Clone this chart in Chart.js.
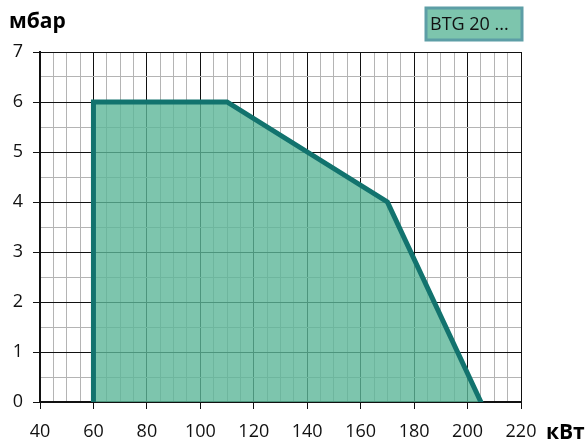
<!DOCTYPE html>
<html>
<head>
<meta charset="utf-8">
<script src="https://cdn.jsdelivr.net/npm/chart.js@4/dist/chart.umd.min.js"></script>
<style>
  html, body { margin: 0; padding: 0; background: #fff; }
</style>
</head>
<body>
<canvas id="chart" width="587" height="441"></canvas>
<script>
// working field of the burner: output (kW) vs. pressure (mbar)
const powerKw = [60, 60, 110, 170, 205];
const pressureMbar = [0, 6, 6, 4, 0];
const seriesName = 'BTG 20 ...';
const yTitle = 'мбар';
const xTitle = 'кВт';

const FONT = '"Open Sans", "Noto Sans", sans-serif';
const LINE = '#12736e';
const MAJOR = '#111';
const MINOR = '#b4b4b4';

// grid colour: black every 20 kW / 1 mbar, grey in between
function isMajor(ctx, step) {
  const v = ctx.tick ? ctx.tick.value : 0;
  return Math.abs(v / step - Math.round(v / step)) < 1e-6;
}
const gridColor = step => ctx => (isMajor(ctx, step) ? MAJOR : MINOR);
const tickMarkColor = step => ctx => (isMajor(ctx, step) ? MAJOR : 'rgba(0,0,0,0)');

// axis units and the series box
const labelsPlugin = {
  id: 'labels',
  afterDraw(chart) {
    const c = chart.ctx;
    c.save();
    c.fillStyle = '#000';
    c.font = 'bold 21px ' + FONT;
    c.textBaseline = 'alphabetic';
    c.textAlign = 'left';
    c.fillText(yTitle, 9, 28);
    c.fillText(xTitle, 546, 439);

    // series box
    const bx = 426, by = 8, bw = 96, bh = 32;
    c.fillStyle = '#7dc5ad';
    c.fillRect(bx, by, bw, bh);
    c.strokeStyle = '#5d9ea6';
    c.lineWidth = 3;
    c.strokeRect(bx, by, bw, bh);
    c.fillStyle = '#111';
    c.font = '18px ' + FONT;
    c.textBaseline = 'middle';
    c.fillText(seriesName, bx + 4, by + bh / 2 + 1);
    c.restore();
  }
};

new Chart(document.getElementById('chart'), {
  type: 'line',
  data: {
    datasets: [{
      label: seriesName,
      data: powerKw.map((x, i) => ({ x: x, y: pressureMbar[i] })),
      borderColor: LINE,
      borderWidth: 5,
      borderCapStyle: 'round',
      borderJoinStyle: 'miter',
      backgroundColor: 'rgba(93,183,153,0.8)',
      fill: 'origin',
      pointRadius: 0,
      tension: 0
    }]
  },
  options: {
    responsive: false,
    animation: false,
    devicePixelRatio: 1,
    layout: { padding: { left: 0, top: 52, right: 66, bottom: 0 } },
    plugins: {
      legend: { display: false },
      tooltip: { enabled: false }
    },
    scales: {
      x: {
        type: 'linear',
        min: 40, max: 220,
        afterFit: s => { s.height = 39; },
        border: { color: MAJOR, width: 2 },
        grid: { color: gridColor(20), tickColor: tickMarkColor(20), tickLength: 7, lineWidth: 1 },
        ticks: {
          stepSize: 5,
          autoSkip: false,
          maxRotation: 0,
          padding: 12,
          color: '#111',
          font: { family: FONT, size: 18 },
          callback: v => (v % 20 === 0 ? String(v) : '')
        }
      },
      y: {
        min: 0, max: 7,
        afterFit: s => { s.width = 40; },
        border: { color: MAJOR, width: 2 },
        grid: { color: gridColor(1), tickColor: tickMarkColor(1), tickLength: 7, lineWidth: 1 },
        ticks: {
          stepSize: 0.5,
          autoSkip: false,
          padding: 10,
          color: '#111',
          font: { family: FONT, size: 18 },
          callback: v => (Number.isInteger(v) ? String(v) : '')
        }
      }
    }
  },
  plugins: [labelsPlugin]
});
</script>
</body>
</html>
